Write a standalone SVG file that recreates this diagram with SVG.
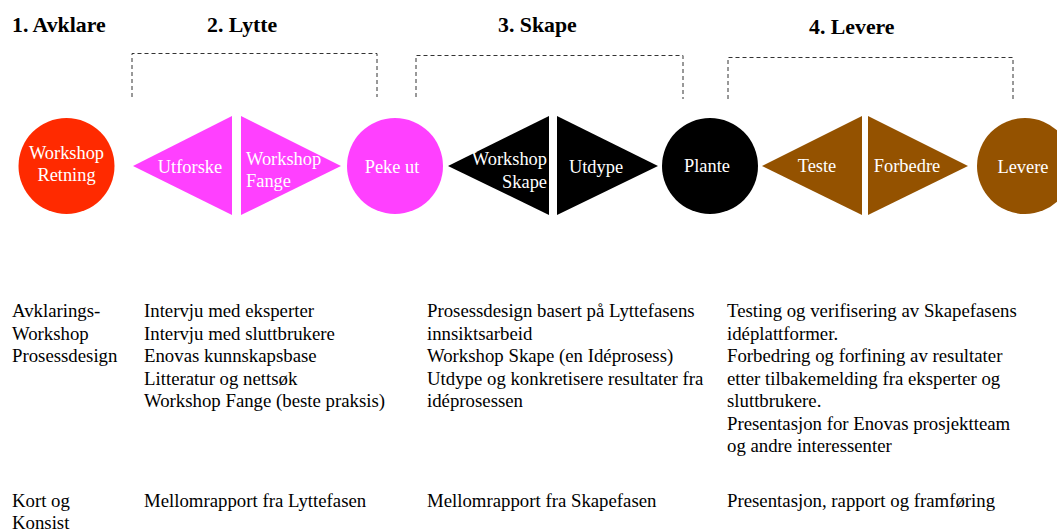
<svg xmlns="http://www.w3.org/2000/svg" width="1057" height="531" viewBox="0 0 1057 531">
<style>
.h{font-family:"Liberation Serif","Times New Roman",serif;font-weight:bold;font-size:21.8px;fill:#000}
.n{font-family:"Liberation Serif","Times New Roman",serif;font-size:18.4px;fill:#fff}
.b{font-family:"Liberation Serif","Times New Roman",serif;font-size:18.8px;fill:#000}
.br{fill:none;stroke:#333;stroke-width:1;stroke-dasharray:4 3}
.red{fill:#ff2a00}.mag{fill:#ff40ff}.blk{fill:#000}.brn{fill:#945200}
</style>
<rect width="1057" height="531" fill="#fff"/>
<g id="headings">
<text class="h" x="12" y="32">1. Avklare</text>
<text class="h" x="207" y="32">2. Lytte</text>
<text class="h" x="498" y="32">3. Skape</text>
<text class="h" x="809" y="34">4. Levere</text>
</g>
<g id="connectors">
<path class="br" d="M132,97 V53.5 H377 V97"/>
<path class="br" d="M416,97 V55.5 H683 V99"/>
<path class="br" d="M728,99 V57.5 H1013 V99"/>
</g>
<g id="workshop-retning">
<circle class="red" cx="66.5" cy="166" r="48"/>
<text class="n" x="66.5" y="159" text-anchor="middle">Workshop</text>
<text class="n" x="66.5" y="181" text-anchor="middle">Retning</text>
</g>
<g id="utforske">
<polygon class="mag" points="133,166 232,116 232,215"/>
<text class="n" x="190" y="173" text-anchor="middle">Utforske</text>
</g>
<g id="workshop-fange">
<polygon class="mag" points="241,116 341,166 241,215"/>
<text class="n" x="246" y="165">Workshop</text>
<text class="n" x="246" y="187">Fange</text>
</g>
<g id="peke-ut">
<circle class="mag" cx="395" cy="166" r="48"/>
<text class="n" x="392" y="173" text-anchor="middle">Peke ut</text>
</g>
<g id="workshop-skape">
<polygon class="blk" points="448,166 549,116 549,215"/>
<text class="n" x="547" y="165" text-anchor="end">Workshop</text>
<text class="n" x="547" y="188" text-anchor="end">Skape</text>
</g>
<g id="utdype">
<polygon class="blk" points="557,116 658,166 557,215"/>
<text class="n" x="596" y="173" text-anchor="middle">Utdype</text>
</g>
<g id="plante">
<circle class="blk" cx="710" cy="166" r="48"/>
<text class="n" x="707" y="172" text-anchor="middle">Plante</text>
</g>
<g id="teste">
<polygon class="brn" points="762,166 862,116 862,215"/>
<text class="n" x="817" y="172" text-anchor="middle">Teste</text>
</g>
<g id="forbedre">
<polygon class="brn" points="868,116 968,166 868,215"/>
<text class="n" x="907" y="172" text-anchor="middle">Forbedre</text>
</g>
<g id="levere">
<circle class="brn" cx="1025" cy="166" r="48"/>
<text class="n" x="1023" y="173" text-anchor="middle">Levere</text>
</g>
<g id="col1">
<text class="b" x="12" y="317">Avklarings-</text>
<text class="b" x="12" y="339.5">Workshop</text>
<text class="b" x="12" y="362">Prosessdesign</text>
<text class="b" x="12" y="507">Kort og</text>
<text class="b" x="12" y="529">Konsist</text>
</g>
<g id="col2">
<text class="b" x="144" y="317">Intervju med eksperter</text>
<text class="b" x="144" y="339.5">Intervju med sluttbrukere</text>
<text class="b" x="144" y="362">Enovas kunnskapsbase</text>
<text class="b" x="144" y="384.5">Litteratur og nettsøk</text>
<text class="b" x="144" y="407">Workshop Fange (beste praksis)</text>
<text class="b" x="144" y="507">Mellomrapport fra Lyttefasen</text>
</g>
<g id="col3">
<text class="b" x="427" y="317">Prosessdesign basert på Lyttefasens</text>
<text class="b" x="427" y="339.5">innsiktsarbeid</text>
<text class="b" x="427" y="362">Workshop Skape (en Idéprosess)</text>
<text class="b" x="427" y="384.5">Utdype og konkretisere resultater fra</text>
<text class="b" x="427" y="407">idéprosessen</text>
<text class="b" x="427" y="507">Mellomrapport fra Skapefasen</text>
</g>
<g id="col4">
<text class="b" x="727" y="317">Testing og verifisering av Skapefasens</text>
<text class="b" x="727" y="339.5">idéplattformer.</text>
<text class="b" x="727" y="362">Forbedring og forfining av resultater</text>
<text class="b" x="727" y="384.5">etter tilbakemelding fra eksperter og</text>
<text class="b" x="727" y="407">sluttbrukere.</text>
<text class="b" x="727" y="429.5">Presentasjon for Enovas prosjektteam</text>
<text class="b" x="727" y="452">og andre interessenter</text>
<text class="b" x="727" y="507">Presentasjon, rapport og framføring</text>
</g>
</svg>
